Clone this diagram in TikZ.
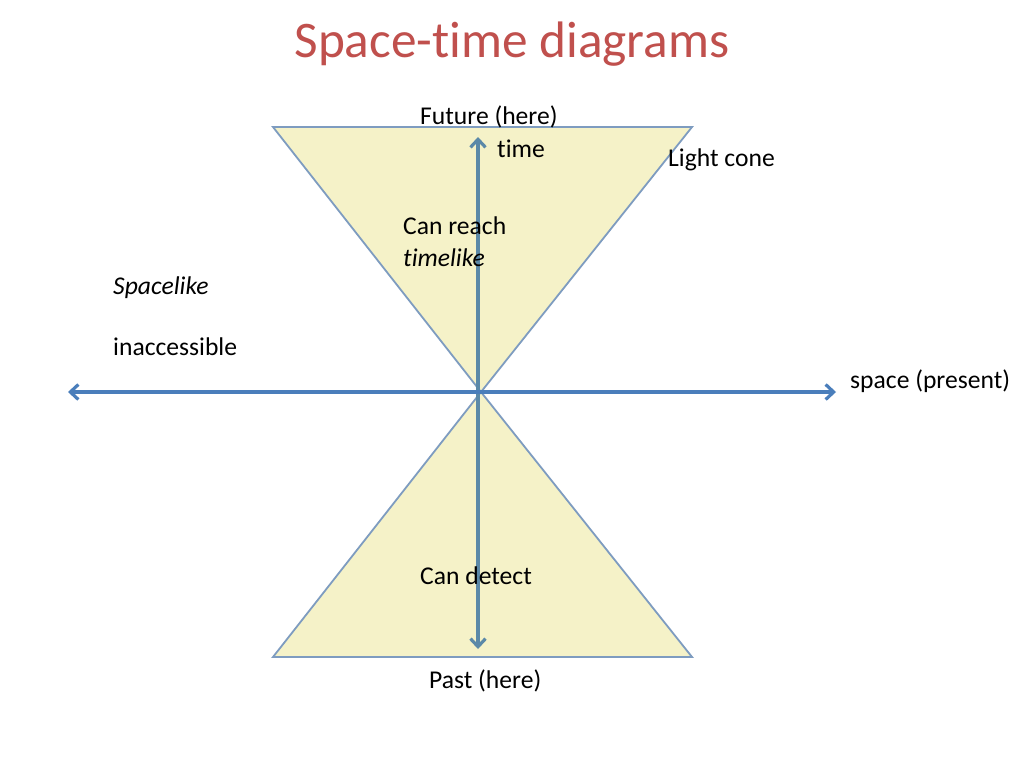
\documentclass[tikz,border=0pt]{standalone}
\usepackage{fontspec}
\setmainfont[Ligatures=NoCommon]{Carlito}
\usetikzlibrary{arrows.meta}
\definecolor{titlered}{HTML}{C0504D}
\definecolor{conefill}{HTML}{F5F2C8}
\definecolor{coneedge}{HTML}{7E9CC0}
\definecolor{haxis}{HTML}{4A7EBB}
\definecolor{vaxis}{HTML}{5B89A8}
\tikzset{
  lbl/.style={anchor=base west,inner sep=0pt,font=\fontsize{25.6}{30}\selectfont},
  cone/.style={fill=conefill,draw=coneedge,line width=1.8pt,line join=miter},
  axis/.style={line width=3.2pt,{Straight Barb[length=8pt,width=15pt]}-{Straight Barb[length=8pt,width=15pt]}}
}
\begin{document}
\begin{tikzpicture}[x=1pt,y=-1pt]
\useasboundingbox[fill=white] (0,0) rectangle (1024,768);
\node[anchor=base,inner sep=0pt,text=titlered,font=\fontsize{51.3}{56}\selectfont] (title) at (512,58) {Space-time diagrams};
% cones
\coordinate (o) at (481,392);
\coordinate (utl) at (273,127);
\coordinate (utr) at (692,127);
\coordinate (lbl) at (273,657);
\coordinate (lbr) at (692,657);
\path[cone] (utl) -- (utr) -- (o) -- cycle;
\path[cone] (lbl) -- (lbr) -- (o) -- cycle;
% axes
\coordinate (xl) at (68,392);
\coordinate (xr) at (836,392);
\coordinate (tt) at (478,137);
\coordinate (tb) at (478,649);
\draw[axis,draw=vaxis] (tb) -- (tt);
\draw[axis,draw=haxis] (xl) -- (xr);
% labels
\node[lbl] (future) at (420,124) {Future (here)};
\node[lbl] (time) at (497,157) {time};
\node[lbl] (lightcone) at (668,166) {Light cone};
\node[lbl] (reach) at (403,234) {Can reach};
\node[lbl] (timelike) at (403,266) {\itshape timelike};
\node[lbl] (spacelike) at (113,294) {\itshape Spacelike};
\node[lbl] (inacc) at (113,355) {inaccessible};
\node[lbl] (space) at (850,388) {space (present)};
\node[lbl] (detect) at (420,584) {Can detect};
\node[lbl] (past) at (429,688) {Past (here)};
\end{tikzpicture}
\end{document}
